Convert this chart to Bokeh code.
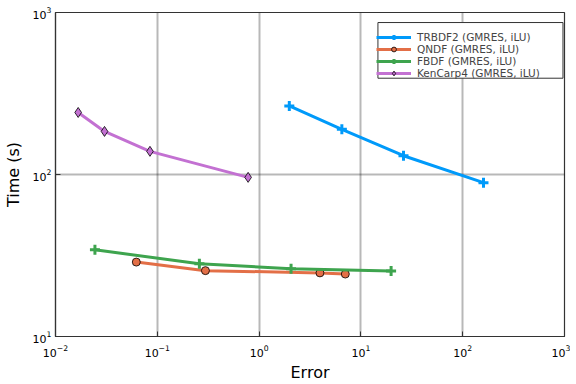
from bokeh.plotting import figure
from bokeh.embed import file_html
from bokeh.resources import INLINE
from bokeh.models import Legend, LegendItem, FixedTicker, BoxAnnotation

# Data
trbdf2_err = [1.98, 6.5, 26.2, 160.0]
trbdf2_time = [265.0, 190.0, 130.6, 89.0]
qndf_err = [0.0622, 0.297, 3.96, 7.03]
qndf_time = [28.8, 25.5, 24.7, 24.3]
fbdf_err = [0.0244, 0.259, 2.06, 19.8]
fbdf_time = [34.3, 28.1, 26.2, 25.4]
kencarp_err = [0.0167, 0.0303, 0.0847, 0.78]
kencarp_time = [241.5, 184.5, 139.0, 96.0]

labels = ["TRBDF2 (GMRES, iLU)", "QNDF (GMRES, iLU)", "FBDF (GMRES, iLU)", "KenCarp4 (GMRES, iLU)"]
colors = ["#009AFA", "#E36F47", "#3EA44E", "#C371D2"]
xticks = [0.01, 0.1, 1, 10, 100, 1000]
yticks = [10, 100, 1000]

p = figure(width=570, height=384, x_axis_type="log", y_axis_type="log",
           x_range=(0.01, 1000), y_range=(10, 1000),
           output_backend="svg", toolbar_location=None,
           min_border_left=55, min_border_right=6, min_border_top=12, min_border_bottom=47)

FONT = "DejaVu Sans"
for ax in (p.xaxis, p.yaxis):
    ax.major_label_text_font = FONT
    ax.major_label_text_font_size = "11px"
    ax.major_label_text_color = "black"
    ax.axis_label_text_font = FONT
    ax.axis_label_text_font_size = "16px"
    ax.axis_label_text_font_style = "normal"
    ax.axis_label_text_color = "black"
    ax.axis_line_color = "#333333"
    ax.axis_line_width = 1.2
    ax.major_tick_in = 5
    ax.major_tick_out = 0
    ax.major_tick_line_color = "#333333"
    ax.minor_tick_line_color = None

p.xaxis.ticker = FixedTicker(ticks=xticks)
p.yaxis.ticker = FixedTicker(ticks=yticks)
p.xaxis.axis_label = "Error"
p.yaxis.axis_label = "Time (s)"
p.xaxis.major_label_standoff = 8
p.xaxis.axis_label_standoff = 3
p.yaxis.major_label_standoff = 4
p.yaxis.axis_label_standoff = 7

p.xgrid.ticker = FixedTicker(ticks=xticks)
p.ygrid.ticker = FixedTicker(ticks=yticks)
for g in (p.xgrid, p.ygrid):
    g.grid_line_color = "#000000"
    g.grid_line_alpha = 0.28
    g.grid_line_width = 2
p.outline_line_color = "#333333"
p.outline_line_width = 1.2
p.background_fill_color = "white"
p.border_fill_color = "white"

items = []
l1 = p.line(trbdf2_err, trbdf2_time, line_color=colors[0], line_width=3)
m1 = p.scatter(trbdf2_err, trbdf2_time, marker="cross", size=10, line_color=colors[0], line_width=3)
items.append(LegendItem(label=labels[0], renderers=[l1, m1]))
l2 = p.line(qndf_err, qndf_time, line_color=colors[1], line_width=3)
m2 = p.scatter(qndf_err, qndf_time, marker="circle", size=8, fill_color=colors[1], line_color="black", line_width=0.8)
items.append(LegendItem(label=labels[1], renderers=[l2, m2]))
l3 = p.line(fbdf_err, fbdf_time, line_color=colors[2], line_width=3)
m3 = p.scatter(fbdf_err, fbdf_time, marker="cross", size=10, line_color=colors[2], line_width=3)
items.append(LegendItem(label=labels[2], renderers=[l3, m3]))
l4 = p.line(kencarp_err, kencarp_time, line_color=colors[3], line_width=3)
m4 = p.scatter(kencarp_err, kencarp_time, marker="diamond", size=10, fill_color=colors[3], line_color="black", line_width=0.8)
items.append(LegendItem(label=labels[3], renderers=[l4, m4]))

# legend frame (white box with dark border)
legend_box = BoxAnnotation(left=14.7, right=966, bottom=393, top=867,
                           fill_color="white", fill_alpha=1.0,
                           line_color="#333333", line_width=1, line_alpha=1.0)
p.add_layout(legend_box)

legend = Legend(items=items, location=(321, 257))
legend.label_text_font = FONT
legend.label_text_font_size = "10.5px"
legend.label_height = 12
legend.glyph_height = 12
legend.glyph_width = 35
legend.spacing = 0
legend.padding = 5
legend.margin = 0
legend.label_standoff = 6
legend.border_line_color = None
legend.background_fill_alpha = 0
p.add_layout(legend)

open("out.html", "w").write(file_html(p, INLINE))
